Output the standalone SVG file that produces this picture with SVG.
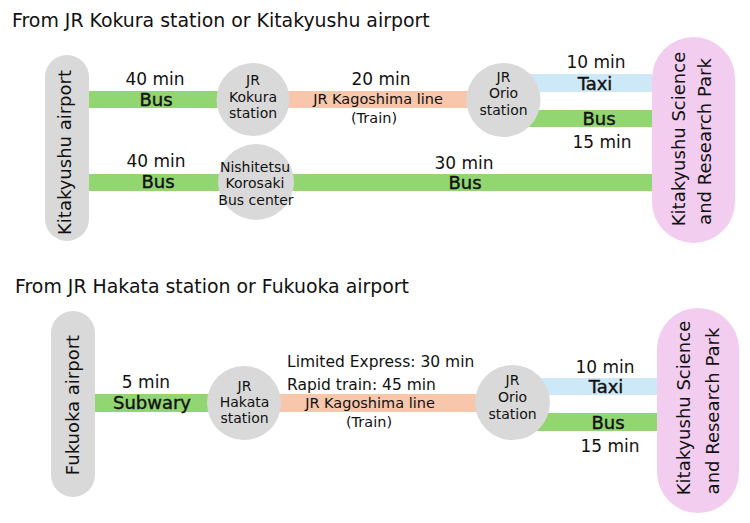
<svg xmlns="http://www.w3.org/2000/svg" width="750" height="523" viewBox="0 0 750 523">
<style>
text{font-family:"DejaVu Sans","Liberation Sans",sans-serif;fill:#111}
.title{font-size:18.9px}
.min{font-size:17px;text-anchor:middle}
.mode{font-size:18px;text-anchor:middle;stroke:#111;stroke-width:0.4}
.st{font-size:14px;text-anchor:middle}
.line{font-size:14.5px;text-anchor:middle}
.note{font-size:15.5px}
.vert{font-size:18px;text-anchor:middle}
.green{fill:#92d672}
.orange{fill:#f8c6aa}
.blue{fill:#cde9f7}
.gray{fill:#d9d9d9}
.pink{fill:#f2cdef}
</style>
<rect width="750" height="523" fill="#ffffff"/>
<text class="title" x="12" y="27">From JR Kokura station or Kitakyushu airport</text>
<text class="title" x="15" y="293">From JR Hakata station or Fukuoka airport</text>
<g id="connectors">
  <rect class="green" x="89" y="91" width="164" height="17"/>
  <rect class="orange" x="253" y="91" width="250" height="17"/>
  <rect class="blue" x="503" y="74" width="149" height="18"/>
  <rect class="green" x="503" y="110" width="149" height="17"/>
  <rect class="green" x="89" y="174" width="563" height="17"/>
  <rect class="green" x="95" y="394" width="149" height="18"/>
  <rect class="orange" x="244" y="394" width="268" height="18"/>
  <rect class="blue" x="512" y="378" width="145" height="17"/>
  <rect class="green" x="512" y="413" width="145" height="18"/>
  <text class="min" x="155" y="85">40 min</text>
  <text class="mode" x="156" y="106">Bus</text>
  <text class="min" x="381" y="85">20 min</text>
  <text class="line" x="378" y="104">JR Kagoshima line</text>
  <text class="line" x="374" y="123">(Train)</text>
  <text class="min" x="596" y="68">10 min</text>
  <text class="mode" x="595" y="90">Taxi</text>
  <text class="mode" x="599" y="125">Bus</text>
  <text class="min" x="602" y="148">15 min</text>
  <text class="min" x="156" y="167">40 min</text>
  <text class="mode" x="158" y="188">Bus</text>
  <text class="min" x="464" y="169">30 min</text>
  <text class="mode" x="465" y="189">Bus</text>
  <text class="min" x="146" y="388">5 min</text>
  <text class="mode" x="152" y="409">Subwary</text>
  <text class="note" x="287" y="367">Limited Express: 30 min</text>
  <text class="note" x="287" y="390">Rapid train: 45 min</text>
  <text class="line" x="370" y="408">JR Kagoshima line</text>
  <text class="line" x="369" y="427">(Train)</text>
  <text class="min" x="605" y="373">10 min</text>
  <text class="mode" x="606" y="393">Taxi</text>
  <text class="mode" x="608" y="429">Bus</text>
  <text class="min" x="610" y="452">15 min</text>
</g>
<g id="kitakyushu-airport">
  <rect class="gray" x="45" y="55" width="44" height="186" rx="22"/>
  <text class="vert" transform="translate(71,152.5) rotate(-90)">Kitakyushu airport</text>
</g>
<g id="jr-kokura">
  <circle class="gray" cx="253" cy="99.5" r="36.5"/>
  <text class="st" x="253" y="85">JR</text>
  <text class="st" x="253" y="101.5">Kokura</text>
  <text class="st" x="253" y="118">station</text>
</g>
<g id="jr-orio-1">
  <circle class="gray" cx="503.5" cy="100" r="37"/>
  <text class="st" x="503.5" y="82">JR</text>
  <text class="st" x="503.5" y="98">Orio</text>
  <text class="st" x="503.5" y="115">station</text>
</g>
<g id="nishitetsu">
  <circle class="gray" cx="256" cy="182" r="38"/>
  <text class="st" x="255" y="172">Nishitetsu</text>
  <text class="st" x="255" y="188">Korosaki</text>
  <text class="st" x="256" y="204.5">Bus center</text>
</g>
<g id="science-park-1">
  <rect class="pink" x="652" y="37" width="83" height="206" rx="41.5"/>
  <text class="vert" transform="translate(685,139) rotate(-90)">Kitakyushu Science</text>
  <text class="vert" transform="translate(711,141.5) rotate(-90)">and Research Park</text>
</g>
<g id="fukuoka-airport">
  <rect class="gray" x="51" y="311" width="44" height="186" rx="22"/>
  <text class="vert" transform="translate(78.5,405) rotate(-90)">Fukuoka airport</text>
</g>
<g id="jr-hakata">
  <circle class="gray" cx="244" cy="403" r="37"/>
  <text class="st" x="244.5" y="391">JR</text>
  <text class="st" x="244.5" y="407">Hakata</text>
  <text class="st" x="244.5" y="423">station</text>
</g>
<g id="jr-orio-2">
  <circle class="gray" cx="512.5" cy="402.5" r="37.5"/>
  <text class="st" x="512.5" y="385">JR</text>
  <text class="st" x="512.5" y="401.5">Orio</text>
  <text class="st" x="512.5" y="419">station</text>
</g>
<g id="science-park-2">
  <rect class="pink" x="657" y="308" width="82" height="205" rx="41"/>
  <text class="vert" transform="translate(690,408) rotate(-90)">Kitakyushu Science</text>
  <text class="vert" transform="translate(719,411) rotate(-90)">and Research Park</text>
</g>
</svg>
